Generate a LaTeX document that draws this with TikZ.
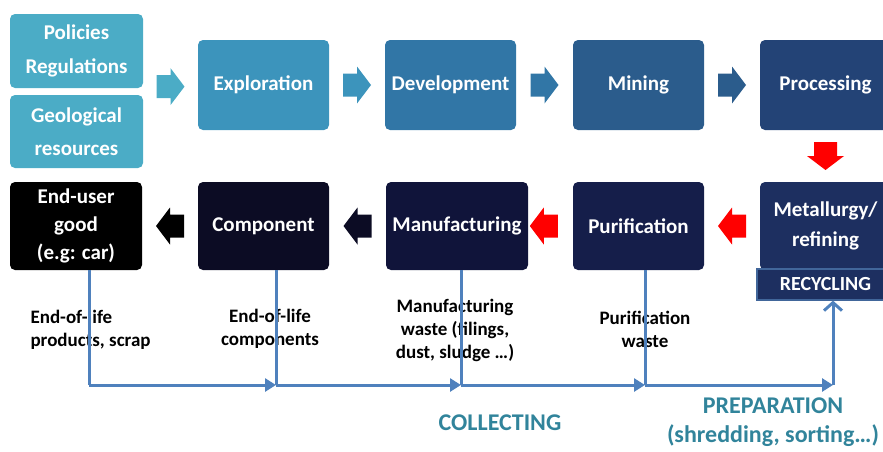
\documentclass[tikz,border=0pt]{standalone}
\usepackage{fontspec}
\setmainfont{Carlito}
\usetikzlibrary{arrows.meta,calc}

\definecolor{aqua}{HTML}{4BACC6}
\definecolor{explo}{HTML}{3C94BC}
\definecolor{devel}{HTML}{3176A6}
\definecolor{mine}{HTML}{2B5C8C}
\definecolor{proc}{HTML}{234376}
\definecolor{metal}{HTML}{1D2F60}
\definecolor{purif}{HTML}{151E4A}
\definecolor{manuf}{HTML}{10143A}
\definecolor{comp}{HTML}{0C0C24}
\definecolor{bandedge}{HTML}{41669A}
\definecolor{flowblue}{HTML}{4F81BD}
\definecolor{tealtext}{HTML}{31849B}

\begin{document}
\begin{tikzpicture}[x=1pt,y=-1pt,
  stage/.style={rounded corners=5pt,minimum width=131pt,minimum height=90pt,
    inner sep=2pt,text=white,align=center,font=\bfseries\fontsize{21}{30}\selectfont},
  note/.style={align=center,font=\bfseries\fontsize{19}{23}\selectfont},
  phase/.style={align=center,text=tealtext,font=\bfseries\fontsize{24}{29}\selectfont},
  flow/.style={draw=flowblue,line width=3pt}]
\useasboundingbox (0,0) rectangle (883,451);
% block arrow helper: #1 = centre, #2 = turn angle, #3 = colour
\newcommand{\blockarrow}[3]{%
  \fill[#3,shift={#1},rotate=#2] (-14,-11.5) -- (0,-11.5) -- (0,-18.5)
    -- (14,0) -- (0,18.5) -- (0,11.5) -- (-14,11.5) -- cycle;
}
% extraction chain
\node[stage,fill=aqua,minimum width=133pt,minimum height=74pt] (pol) at (76.5,51) {Policies\\[4pt]Regulations};
\node[stage,fill=aqua,minimum width=133pt,minimum height=73pt] (geo) at (76.5,131.5) {Geological\\[3pt]resources};
\node[stage,fill=explo] (exp) at (263.5,85) {Exploration};
\node[stage,fill=devel] (dev) at (450.5,85) {Development};
\node[stage,fill=mine]  (min) at (638.5,85) {Mining};
\node[stage,fill=proc]  (pro) at (825.5,85) {Processing};
% transformation chain
\node[stage,fill=black,minimum width=132pt,minimum height=88pt] (eu) at (76,226) {End-user\\[-2pt]good\\[-2pt](e.g: car)};
\node[stage,fill=comp,minimum height=88pt] (cmp) at (263.5,226) {Component};
\node[stage,fill=manuf,minimum width=142pt,minimum height=88pt] (man) at (457,226) {Manufacturing};
\node[stage,fill=purif,minimum height=88pt] (pur) at (638.5,226) {Purification};
\node[stage,fill=metal,minimum height=88pt] (met) at (825.5,226) {Metallurgy/\\refining};
\node[draw=bandedge,fill=metal,line width=1.2pt,minimum width=137pt,minimum height=31pt,
  text=white,font=\bfseries\fontsize{20}{24}\selectfont] (rec) at (825.5,284.5) {RECYCLING};
% block arrows
\blockarrow{($(pol.south east)!.5!(exp.west)$)}{0}{aqua}
\blockarrow{($(exp.east)!.5!(dev.west)$)}{0}{explo}
\blockarrow{($(dev.east)!.5!(min.west)$)}{0}{devel}
\blockarrow{($(min.east)!.5!(pro.west)$)}{0}{mine}
\blockarrow{($(pro.south)!.5!(met.north)$)}{-90}{red}
\blockarrow{($(met.west)!.5!(pur.east)$)}{180}{red}
\blockarrow{($(man.east)!.35!(pur.west)$)}{180}{red}
\blockarrow{($(cmp.east)!.5!(man.west)$)}{180}{comp}
\blockarrow{($(eu.east)!.5!(cmp.west)$)}{180}{black}
% waste labels
\node[note,align=left,anchor=west] (w1) at (27,330) {End-of-life\\products, scrap};
\node[note] (w2) at (270,329) {End-of-life\\components};
\node[note] (w3) at (455,330) {Manufacturing\\waste (filings,\\dust, sludge …)};
\node[note] (w4) at (645,329) {Purification\\waste};
\node[phase] (col) at (500,423) {COLLECTING};
\node[phase] (prep) at (773,422) {PREPARATION\\(shredding, sorting…)};
% collecting lines
\coordinate (bus) at (0,385);
\foreach \n/\dx/\j in {eu/13/1,cmp/12.5/2,man/4/3,pur/6.5/4}
  \draw[flow] (\n.south) ++(\dx,0) coordinate (d\j) -- (d\j |- bus) coordinate (j\j);
\path (rec.south) ++(7.5,0) coordinate (r5);
\coordinate (j5) at (r5 |- bus);
\draw[flow,-{Triangle[length=11pt,width=13pt]}] (j1) -- (j2);
\draw[flow,-{Triangle[length=11pt,width=13pt]}] (j2) -- (j3);
\draw[flow,-{Triangle[length=11pt,width=13pt]}] (j3) -- (j4);
\draw[flow,-{Triangle[length=11pt,width=13pt]}] (j4) -- (j5);
\draw[flow,-{Straight Barb[length=8pt,width=18pt]}] (j5) -- (r5);
\end{tikzpicture}
\end{document}
